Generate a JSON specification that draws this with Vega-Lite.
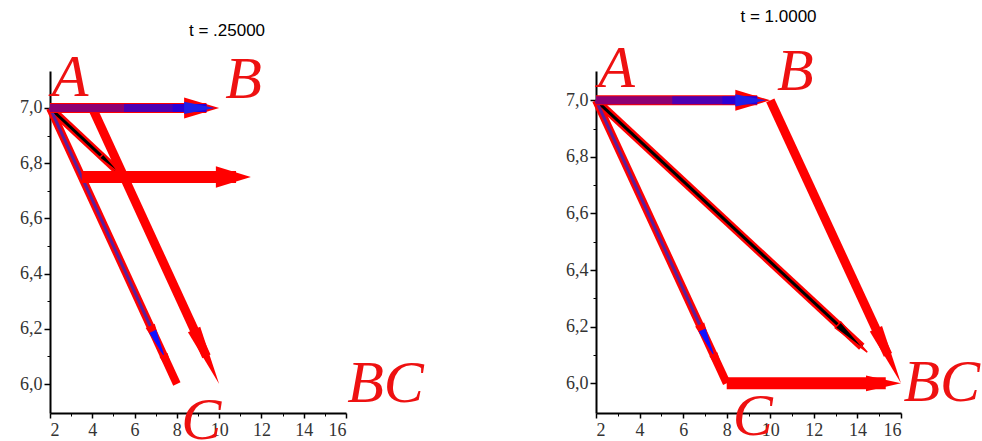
{
  "$schema": "https://vega.github.io/schema/vega-lite/v6.json",
  "background": "white",
  "padding": {"left": 19, "top": 8, "right": 0, "bottom": 0},
  "bounds": "flush",
  "spacing": 250,
  "config": {
    "view": {"stroke": null},
    "axis": {"labelFont": "Liberation Serif", "labelFontSize": 18, "labelColor": "#333333", "domainColor": "#000000", "tickColor": "#000000", "grid": false, "title": null},
    "title": {"font": "Liberation Sans", "fontSize": 17, "fontWeight": "normal", "color": "#000000", "anchor": "middle", "offset": 13}
  },
  "datasets": {
    "seg": [
      {"panel": "L", "part": "ac", "x": 2, "y": 7, "x2": 8, "y2": 6},
      {"panel": "L", "part": "acc", "x": 2, "y": 7, "x2": 7.3, "y2": 6.117},
      {"panel": "L", "part": "bk", "x": 2, "y": 7, "x2": 5.3, "y2": 6.764},
      {"panel": "L", "part": "rl", "x": 4, "y": 7, "x2": 9.4, "y2": 6.1},
      {"panel": "L", "part": "ra", "x": 3.5, "y": 6.75, "x2": 10.8, "y2": 6.75},
      {"panel": "L", "part": "ab", "x": 2, "y": 7, "x2": 9.4, "y2": 7},
      {"panel": "L", "part": "abb", "x": 2, "y": 7, "x2": 9.4, "y2": 7},
      {"panel": "L", "part": "abb", "x": 5.5, "y": 7, "x2": 9.4, "y2": 7},
      {"panel": "L", "part": "abb", "x": 7.8, "y": 7, "x2": 9.4, "y2": 7},
      {"panel": "R", "part": "ac", "x": 2, "y": 7, "x2": 8, "y2": 6},
      {"panel": "R", "part": "acc", "x": 2, "y": 7, "x2": 7.3, "y2": 6.117},
      {"panel": "R", "part": "bk", "x": 2, "y": 7, "x2": 14.2, "y2": 6.129},
      {"panel": "R", "part": "rl", "x": 10, "y": 7, "x2": 15.4, "y2": 6.1},
      {"panel": "R", "part": "ra", "x": 8, "y": 6, "x2": 15.3, "y2": 6},
      {"panel": "R", "part": "ab", "x": 2, "y": 7, "x2": 9.4, "y2": 7},
      {"panel": "R", "part": "abb", "x": 2, "y": 7, "x2": 9.4, "y2": 7},
      {"panel": "R", "part": "abb", "x": 5.5, "y": 7, "x2": 9.4, "y2": 7},
      {"panel": "R", "part": "abb", "x": 7.8, "y": 7, "x2": 9.4, "y2": 7}
    ],
    "head": [
      {"panel": "L", "part": "ab", "x": 10, "y": 7},
      {"panel": "L", "part": "acb", "x": 7.45, "y": 6.092},
      {"panel": "L", "part": "acr", "x": 8, "y": 6},
      {"panel": "L", "part": "rl", "x": 10, "y": 6},
      {"panel": "L", "part": "bk", "x": 5.4, "y": 6.757},
      {"panel": "L", "part": "ra", "x": 11.5, "y": 6.75},
      {"panel": "R", "part": "ab", "x": 10, "y": 7},
      {"panel": "R", "part": "acb", "x": 7.45, "y": 6.092},
      {"panel": "R", "part": "acr", "x": 8, "y": 6},
      {"panel": "R", "part": "rl", "x": 16, "y": 6},
      {"panel": "R", "part": "bk", "x": 14.45, "y": 6.11},
      {"panel": "R", "part": "ra", "x": 16, "y": 6}
    ],
    "lab": [
      {"panel": "L", "label": "A", "x": 2.95, "y": 7.11},
      {"panel": "L", "label": "B", "x": 11.15, "y": 7.1},
      {"panel": "L", "label": "C", "x": 9.15, "y": 5.865},
      {"panel": "L", "label": "BC", "x": 17.87, "y": 6.0},
      {"panel": "R", "label": "A", "x": 2.95, "y": 7.11},
      {"panel": "R", "label": "B", "x": 11.15, "y": 7.1},
      {"panel": "R", "label": "C", "x": 9.2, "y": 5.88},
      {"panel": "R", "label": "BC", "x": 17.87, "y": 6.0}
    ]
  },
  "hconcat": [
    {
      "width": 296, "height": 342,
      "title": {"text": "t = .25000", "dx": 29, "dy": 5},
      "resolve": {"axis": {"x": "independent", "y": "independent"}},
      "layer": [
        {"data": {"name": "seg"}, "transform": [{"filter": "datum.panel == 'L' && (datum.part == 'ac' || datum.part == 'bk')"}],
         "mark": {"type": "rule", "color": "#ff0000", "strokeWidth": 8},
         "encoding": {
           "x": {"field": "x", "type": "quantitative", "scale": {"domain": [2, 16], "nice": false, "zero": false},
                 "axis": {"orient": "bottom", "values": [2, 4, 6, 8, 10, 12, 14, 16], "tickSize": 5, "domainWidth": 2, "tickWidth": 1.5, "labelPadding": 3}},
           "y": {"field": "y", "type": "quantitative", "scale": {"domain": [5.895, 7.134], "nice": false, "zero": false},
                 "axis": {"orient": "left", "values": [6, 6.2, 6.4, 6.6, 6.8, 7], "labelExpr": "replace(format(datum.value, '.1f'), '.', ',')", "tickSize": 6, "domainWidth": 2, "tickWidth": 1.5, "labelPadding": 2}},
           "x2": {"field": "x2"}, "y2": {"field": "y2"}}},
        {"data": {"name": "seg"}, "transform": [{"filter": "datum.panel == 'L' && datum.part == 'bk'"}],
         "mark": {"type": "rule", "color": "#000000", "strokeWidth": 3},
         "encoding": {
           "x": {"field": "x", "type": "quantitative", "scale": {"domain": [2, 16], "nice": false, "zero": false},
                 "axis": {"orient": "bottom", "values": [3, 5, 7, 9, 11, 13, 15], "tickSize": 3, "labels": false, "domain": false}},
           "y": {"field": "y", "type": "quantitative", "scale": {"domain": [5.895, 7.134], "nice": false, "zero": false},
                 "axis": {"orient": "left", "values": [6.1, 6.3, 6.5, 6.7, 6.9], "tickSize": 3, "labels": false, "domain": false}},
           "x2": {"field": "x2"}, "y2": {"field": "y2"}}},
        {"data": {"name": "seg"}, "transform": [{"filter": "datum.panel == 'L' && datum.part == 'acc'"}],
         "mark": {"type": "rule", "color": "#5a1f9c", "strokeWidth": 3},
         "encoding": {"x": {"field": "x", "type": "quantitative", "axis": null}, "y": {"field": "y", "type": "quantitative", "axis": null}, "x2": {"field": "x2"}, "y2": {"field": "y2"}}},
        {"data": {"name": "head"}, "transform": [{"filter": "datum.panel == 'L' && datum.part == 'acb'"}],
         "mark": {"type": "point", "shape": "M0,0L-4,-0.55L-4,0.55Z", "angle": 65.3, "size": 324, "filled": true, "color": "#ff0000", "opacity": 1},
         "encoding": {"x": {"field": "x", "type": "quantitative", "axis": null}, "y": {"field": "y", "type": "quantitative", "axis": null}}},
        {"data": {"name": "head"}, "transform": [{"filter": "datum.panel == 'L' && datum.part == 'acb'"}],
         "mark": {"type": "point", "shape": "M0,0L-4,-0.5L-4,0.5Z", "angle": 65.3, "size": 225, "filled": true, "color": "#1010ff", "opacity": 1},
         "encoding": {"x": {"field": "x", "type": "quantitative", "axis": null}, "y": {"field": "y", "type": "quantitative", "axis": null}}},
        {"data": {"name": "head"}, "transform": [{"filter": "datum.panel == 'L' && datum.part == 'acr'"}],
         "mark": {"type": "point", "shape": "M0,0L-4,-0.55L-4,0.55Z", "angle": 65.3, "size": 256, "filled": true, "color": "#ff0000", "opacity": 1},
         "encoding": {"x": {"field": "x", "type": "quantitative", "axis": null}, "y": {"field": "y", "type": "quantitative", "axis": null}}},
        {"data": {"name": "head"}, "transform": [{"filter": "datum.panel == 'L' && datum.part == 'bk'"}],
         "mark": {"type": "point", "shape": "M0,0L-4,-0.4L-4,0.4Z", "angle": 43, "size": 196, "filled": true, "color": "#000000", "stroke": "#ff0000", "strokeWidth": 1.5, "opacity": 1},
         "encoding": {"x": {"field": "x", "type": "quantitative", "axis": null}, "y": {"field": "y", "type": "quantitative", "axis": null}}},
        {"data": {"name": "seg"}, "transform": [{"filter": "datum.panel == 'L' && datum.part == 'rl'"}],
         "mark": {"type": "rule", "color": "#ff0000", "strokeWidth": 9},
         "encoding": {"x": {"field": "x", "type": "quantitative", "axis": null}, "y": {"field": "y", "type": "quantitative", "axis": null}, "x2": {"field": "x2"}, "y2": {"field": "y2"}}},
        {"data": {"name": "head"}, "transform": [{"filter": "datum.panel == 'L' && datum.part == 'rl'"}],
         "mark": {"type": "point", "shape": "M0,0L-4,-0.45L-4,0.45Z", "angle": 65.3, "size": 900, "filled": true, "color": "#ff0000", "opacity": 1},
         "encoding": {"x": {"field": "x", "type": "quantitative", "axis": null}, "y": {"field": "y", "type": "quantitative", "axis": null}}},
        {"data": {"name": "seg"}, "transform": [{"filter": "datum.panel == 'L' && datum.part == 'ra'"}],
         "mark": {"type": "rule", "color": "#ff0000", "strokeWidth": 12},
         "encoding": {"x": {"field": "x", "type": "quantitative", "axis": null}, "y": {"field": "y", "type": "quantitative", "axis": null}, "x2": {"field": "x2"}, "y2": {"field": "y2"}}},
        {"data": {"name": "head"}, "transform": [{"filter": "datum.panel == 'L' && datum.part == 'ra'"}],
         "mark": {"type": "point", "shape": "M0,0L-2,-0.62L-2,0.62Z", "size": 1225, "filled": true, "color": "#ff0000", "opacity": 1},
         "encoding": {"x": {"field": "x", "type": "quantitative", "axis": null}, "y": {"field": "y", "type": "quantitative", "axis": null}}},
        {"data": {"name": "seg"}, "transform": [{"filter": "datum.panel == 'L' && datum.part == 'ab'"}],
         "mark": {"type": "rule", "color": "#ff0000", "strokeWidth": 10},
         "encoding": {"x": {"field": "x", "type": "quantitative", "axis": null}, "y": {"field": "y", "type": "quantitative", "axis": null}, "x2": {"field": "x2"}, "y2": {"field": "y2"}}},
        {"data": {"name": "head"}, "transform": [{"filter": "datum.panel == 'L' && datum.part == 'ab'"}],
         "mark": {"type": "point", "shape": "M0,0L-2,-0.6L-2,0.6Z", "size": 1225, "filled": true, "color": "#ff0000", "opacity": 1},
         "encoding": {"x": {"field": "x", "type": "quantitative", "axis": null}, "y": {"field": "y", "type": "quantitative", "axis": null}}},
        {"data": {"name": "seg"}, "transform": [{"filter": "datum.panel == 'L' && datum.part == 'abb'"}],
         "mark": {"type": "rule", "color": "#0000ff", "strokeWidth": 8, "opacity": 0.45},
         "encoding": {"x": {"field": "x", "type": "quantitative", "axis": null}, "y": {"field": "y", "type": "quantitative", "axis": null}, "x2": {"field": "x2"}, "y2": {"field": "y2"}}},
        {"data": {"name": "head"}, "transform": [{"filter": "datum.panel == 'L' && datum.part == 'ab'"}],
         "mark": {"type": "point", "shape": "M-0.25,0L-2,-0.35L-2,0.35Z", "size": 1225, "filled": true, "color": "#2020e8", "opacity": 1},
         "encoding": {"x": {"field": "x", "type": "quantitative", "axis": null}, "y": {"field": "y", "type": "quantitative", "axis": null}}},
        {"data": {"name": "lab"}, "transform": [{"filter": "datum.panel == 'L'"}],
         "mark": {"type": "text", "font": "Liberation Serif", "fontStyle": "italic", "fontSize": 60, "color": "#ee1111", "align": "center", "baseline": "middle"},
         "encoding": {"x": {"field": "x", "type": "quantitative", "axis": null}, "y": {"field": "y", "type": "quantitative", "axis": null}, "text": {"field": "label"}}}
      ]
    },
    {
      "width": 305, "height": 342,
      "title": {"text": "t = 1.0000", "dx": 30, "dy": 0},
      "resolve": {"axis": {"x": "independent", "y": "independent"}},
      "layer": [
        {"data": {"name": "seg"}, "transform": [{"filter": "datum.panel == 'R' && (datum.part == 'ac' || datum.part == 'bk')"}],
         "mark": {"type": "rule", "color": "#ff0000", "strokeWidth": 8},
         "encoding": {
           "x": {"field": "x", "type": "quantitative", "scale": {"domain": [2, 16], "nice": false, "zero": false},
                 "axis": {"orient": "bottom", "values": [2, 4, 6, 8, 10, 12, 14, 16], "tickSize": 5, "domainWidth": 2, "tickWidth": 1.5, "labelPadding": 3}},
           "y": {"field": "y", "type": "quantitative", "scale": {"domain": [5.895, 7.1035], "nice": false, "zero": false},
                 "axis": {"orient": "left", "values": [6, 6.2, 6.4, 6.6, 6.8, 7], "labelExpr": "replace(format(datum.value, '.1f'), '.', ',')", "tickSize": 6, "domainWidth": 2, "tickWidth": 1.5, "labelPadding": 2}},
           "x2": {"field": "x2"}, "y2": {"field": "y2"}}},
        {"data": {"name": "seg"}, "transform": [{"filter": "datum.panel == 'R' && datum.part == 'bk'"}],
         "mark": {"type": "rule", "color": "#000000", "strokeWidth": 3},
         "encoding": {
           "x": {"field": "x", "type": "quantitative", "scale": {"domain": [2, 16], "nice": false, "zero": false},
                 "axis": {"orient": "bottom", "values": [3, 5, 7, 9, 11, 13, 15], "tickSize": 3, "labels": false, "domain": false}},
           "y": {"field": "y", "type": "quantitative", "scale": {"domain": [5.895, 7.1035], "nice": false, "zero": false},
                 "axis": {"orient": "left", "values": [6.1, 6.3, 6.5, 6.7, 6.9], "tickSize": 3, "labels": false, "domain": false}},
           "x2": {"field": "x2"}, "y2": {"field": "y2"}}},
        {"data": {"name": "seg"}, "transform": [{"filter": "datum.panel == 'R' && datum.part == 'acc'"}],
         "mark": {"type": "rule", "color": "#5a1f9c", "strokeWidth": 3},
         "encoding": {"x": {"field": "x", "type": "quantitative", "axis": null}, "y": {"field": "y", "type": "quantitative", "axis": null}, "x2": {"field": "x2"}, "y2": {"field": "y2"}}},
        {"data": {"name": "head"}, "transform": [{"filter": "datum.panel == 'R' && datum.part == 'acb'"}],
         "mark": {"type": "point", "shape": "M0,0L-4,-0.55L-4,0.55Z", "angle": 65.3, "size": 324, "filled": true, "color": "#ff0000", "opacity": 1},
         "encoding": {"x": {"field": "x", "type": "quantitative", "axis": null}, "y": {"field": "y", "type": "quantitative", "axis": null}}},
        {"data": {"name": "head"}, "transform": [{"filter": "datum.panel == 'R' && datum.part == 'acb'"}],
         "mark": {"type": "point", "shape": "M0,0L-4,-0.5L-4,0.5Z", "angle": 65.3, "size": 225, "filled": true, "color": "#1010ff", "opacity": 1},
         "encoding": {"x": {"field": "x", "type": "quantitative", "axis": null}, "y": {"field": "y", "type": "quantitative", "axis": null}}},
        {"data": {"name": "head"}, "transform": [{"filter": "datum.panel == 'R' && datum.part == 'acr'"}],
         "mark": {"type": "point", "shape": "M0,0L-4,-0.55L-4,0.55Z", "angle": 65.3, "size": 256, "filled": true, "color": "#ff0000", "opacity": 1},
         "encoding": {"x": {"field": "x", "type": "quantitative", "axis": null}, "y": {"field": "y", "type": "quantitative", "axis": null}}},
        {"data": {"name": "head"}, "transform": [{"filter": "datum.panel == 'R' && datum.part == 'bk'"}],
         "mark": {"type": "point", "shape": "M0,0L-4,-0.4L-4,0.4Z", "angle": 43, "size": 400, "filled": true, "color": "#000000", "stroke": "#ff0000", "strokeWidth": 1.5, "opacity": 1},
         "encoding": {"x": {"field": "x", "type": "quantitative", "axis": null}, "y": {"field": "y", "type": "quantitative", "axis": null}}},
        {"data": {"name": "seg"}, "transform": [{"filter": "datum.panel == 'R' && datum.part == 'rl'"}],
         "mark": {"type": "rule", "color": "#ff0000", "strokeWidth": 9},
         "encoding": {"x": {"field": "x", "type": "quantitative", "axis": null}, "y": {"field": "y", "type": "quantitative", "axis": null}, "x2": {"field": "x2"}, "y2": {"field": "y2"}}},
        {"data": {"name": "head"}, "transform": [{"filter": "datum.panel == 'R' && datum.part == 'rl'"}],
         "mark": {"type": "point", "shape": "M0,0L-4,-0.45L-4,0.45Z", "angle": 65.3, "size": 900, "filled": true, "color": "#ff0000", "opacity": 1},
         "encoding": {"x": {"field": "x", "type": "quantitative", "axis": null}, "y": {"field": "y", "type": "quantitative", "axis": null}}},
        {"data": {"name": "seg"}, "transform": [{"filter": "datum.panel == 'R' && datum.part == 'ra'"}],
         "mark": {"type": "rule", "color": "#ff0000", "strokeWidth": 12},
         "encoding": {"x": {"field": "x", "type": "quantitative", "axis": null}, "y": {"field": "y", "type": "quantitative", "axis": null}, "x2": {"field": "x2"}, "y2": {"field": "y2"}}},
        {"data": {"name": "head"}, "transform": [{"filter": "datum.panel == 'R' && datum.part == 'ra'"}],
         "mark": {"type": "point", "shape": "M0,0L-2,-0.45L-2,0.45Z", "size": 1225, "filled": true, "color": "#ff0000", "opacity": 1},
         "encoding": {"x": {"field": "x", "type": "quantitative", "axis": null}, "y": {"field": "y", "type": "quantitative", "axis": null}}},
        {"data": {"name": "seg"}, "transform": [{"filter": "datum.panel == 'R' && datum.part == 'ab'"}],
         "mark": {"type": "rule", "color": "#ff0000", "strokeWidth": 10},
         "encoding": {"x": {"field": "x", "type": "quantitative", "axis": null}, "y": {"field": "y", "type": "quantitative", "axis": null}, "x2": {"field": "x2"}, "y2": {"field": "y2"}}},
        {"data": {"name": "head"}, "transform": [{"filter": "datum.panel == 'R' && datum.part == 'ab'"}],
         "mark": {"type": "point", "shape": "M0,0L-2,-0.6L-2,0.6Z", "size": 1225, "filled": true, "color": "#ff0000", "opacity": 1},
         "encoding": {"x": {"field": "x", "type": "quantitative", "axis": null}, "y": {"field": "y", "type": "quantitative", "axis": null}}},
        {"data": {"name": "seg"}, "transform": [{"filter": "datum.panel == 'R' && datum.part == 'abb'"}],
         "mark": {"type": "rule", "color": "#0000ff", "strokeWidth": 8, "opacity": 0.45},
         "encoding": {"x": {"field": "x", "type": "quantitative", "axis": null}, "y": {"field": "y", "type": "quantitative", "axis": null}, "x2": {"field": "x2"}, "y2": {"field": "y2"}}},
        {"data": {"name": "head"}, "transform": [{"filter": "datum.panel == 'R' && datum.part == 'ab'"}],
         "mark": {"type": "point", "shape": "M-0.25,0L-2,-0.35L-2,0.35Z", "size": 1225, "filled": true, "color": "#2020e8", "opacity": 1},
         "encoding": {"x": {"field": "x", "type": "quantitative", "axis": null}, "y": {"field": "y", "type": "quantitative", "axis": null}}},
        {"data": {"name": "lab"}, "transform": [{"filter": "datum.panel == 'R'"}],
         "mark": {"type": "text", "font": "Liberation Serif", "fontStyle": "italic", "fontSize": 60, "color": "#ee1111", "align": "center", "baseline": "middle"},
         "encoding": {"x": {"field": "x", "type": "quantitative", "axis": null}, "y": {"field": "y", "type": "quantitative", "axis": null}, "text": {"field": "label"}}}
      ]
    }
  ]
}
